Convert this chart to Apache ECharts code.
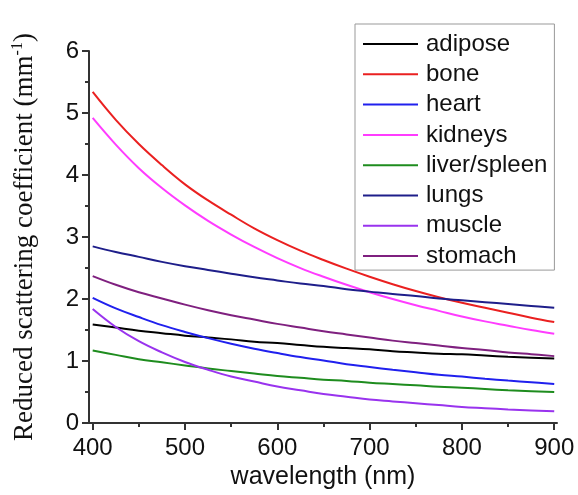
<!DOCTYPE html>
<html><head><meta charset="utf-8">
<script src="https://cdn.jsdelivr.net/npm/echarts@6/dist/echarts.min.js"></script>
<style>html,body{margin:0;padding:0;background:#fff}#c{width:578px;height:495px}</style>
</head><body><div id="c"></div>
<script>
const wavelengths = [400, 425, 450, 475, 500, 525, 550, 575, 600, 625, 650, 675, 700, 725, 750, 775, 800, 825, 850, 875, 900];
const seriesNames = ['adipose','bone','heart','kidneys','liver/spleen','lungs','muscle','stomach'];
const adipose     = [1.59, 1.54, 1.49, 1.45, 1.41, 1.38, 1.35, 1.31, 1.29, 1.26, 1.23, 1.21, 1.19, 1.16, 1.14, 1.12, 1.11, 1.09, 1.07, 1.055, 1.04];
const bone        = [5.34, 4.89, 4.50, 4.16, 3.85, 3.59, 3.36, 3.14, 2.95, 2.78, 2.63, 2.49, 2.36, 2.24, 2.13, 2.03, 1.94, 1.86, 1.78, 1.70, 1.63];
const heart       = [2.02, 1.85, 1.71, 1.58, 1.47, 1.37, 1.28, 1.20, 1.13, 1.065, 1.01, 0.95, 0.905, 0.86, 0.82, 0.78, 0.75, 0.715, 0.685, 0.66, 0.63];
const kidneys     = [4.92, 4.49, 4.11, 3.79, 3.51, 3.26, 3.04, 2.84, 2.66, 2.50, 2.36, 2.23, 2.11, 2.00, 1.90, 1.81, 1.72, 1.64, 1.57, 1.50, 1.44];
const liverSpleen = [1.17, 1.10, 1.03, 0.98, 0.93, 0.88, 0.84, 0.80, 0.76, 0.73, 0.70, 0.68, 0.65, 0.63, 0.61, 0.585, 0.57, 0.55, 0.53, 0.515, 0.50];
const lungs       = [2.85, 2.76, 2.68, 2.60, 2.53, 2.47, 2.41, 2.35, 2.30, 2.25, 2.21, 2.16, 2.12, 2.08, 2.05, 2.01, 1.98, 1.95, 1.92, 1.89, 1.86];
const muscle      = [1.84, 1.55, 1.32, 1.14, 0.985, 0.86, 0.75, 0.67, 0.59, 0.53, 0.47, 0.425, 0.38, 0.35, 0.32, 0.29, 0.26, 0.24, 0.22, 0.205, 0.19];
const stomach     = [2.37, 2.23, 2.11, 2.01, 1.91, 1.82, 1.74, 1.67, 1.60, 1.54, 1.48, 1.43, 1.38, 1.33, 1.29, 1.25, 1.21, 1.18, 1.14, 1.11, 1.08];
const xMajorTicks = [400, 500, 600, 700, 800, 900];
const xMinorTicks = [450, 550, 650, 750, 850];
const yTickLabels = [0, 1, 2, 3, 4, 5, 6];

const allValues = [adipose, bone, heart, kidneys, liverSpleen, lungs, muscle, stomach];
const colors = ['#000000', '#ea2020', '#2020ee', '#ff3cff', '#1e8c1e', '#1e1e8a', '#9933ee', '#7f207f'];

const chart = echarts.init(document.getElementById('c'), null, {renderer: 'canvas'});
const axisColor = '#333';
const font = 'Liberation Sans, Arial, sans-serif';
const serif = 'Liberation Serif, Times New Roman, serif';
const option = {
  backgroundColor: '#ffffff',
  animation: false,
  grid: {left: 89, right: 21, top: 51, bottom: 64, containLabel: false},
  legend: {
    orient: 'vertical',
    left: 355, top: 24,
    data: seriesNames,
    icon: 'rect',
    itemWidth: 55, itemHeight: 2,
    itemGap: 6.3,
    padding: [8, 7, 2, 8],
    borderColor: '#999', borderWidth: 1,
    textStyle: {fontFamily: font, fontSize: 24, color: '#111', padding: [0, 0, 0, 3]}
  },
  xAxis: [{
    type: 'value', min: 396, max: 903,
    name: 'wavelength (nm)', nameLocation: 'middle', nameGap: 35,
    nameTextStyle: {fontFamily: font, fontSize: 25, color: '#111'},
    axisLine: {show: true, lineStyle: {color: axisColor, width: 2}},
    axisTick: {show: true, inside: false, length: 7, lineStyle: {color: axisColor, width: 2}, customValues: xMajorTicks},
    axisLabel: {show: true, margin: 13, fontFamily: font, fontSize: 24, color: '#111', customValues: xMajorTicks},
    splitLine: {show: false}
  }, {
    type: 'value', min: 396, max: 903, position: 'bottom',
    axisLine: {show: false},
    axisTick: {show: true, inside: false, length: 4, lineStyle: {color: axisColor, width: 2}, customValues: xMinorTicks},
    axisLabel: {show: false},
    splitLine: {show: false}
  }],
  yAxis: {
    type: 'value', min: 0, max: 6, interval: 1,
    name: '{a|Reduced scattering coefficient (mm}{s|-1}{a|)}',
    nameLocation: 'middle', nameGap: 49, nameRotate: 90,
    nameTextStyle: {
      rich: {
        a: {fontFamily: serif, fontSize: 27, color: '#111'},
        s: {fontFamily: serif, fontSize: 16, color: '#111', padding: [0, 0, 14, 0]}
      }
    },
    axisLine: {show: true, lineStyle: {color: axisColor, width: 2}},
    axisTick: {show: true, inside: false, length: 7, lineStyle: {color: axisColor, width: 2}},
    minorTick: {show: true, splitNumber: 2, length: 4, lineStyle: {color: axisColor, width: 2}},
    axisLabel: {margin: 10, fontFamily: font, fontSize: 24, color: '#111',
      formatter: function (v) { return yTickLabels.indexOf(v) >= 0 ? String(v) : ''; }},
    splitLine: {show: false}
  },
  series: seriesNames.map((n, i) => ({
    name: n, type: 'line', xAxisIndex: 0,
    data: wavelengths.map((w, j) => [w, allValues[i][j]]),
    smooth: 0.4, showSymbol: false, symbol: 'none',
    lineStyle: {color: colors[i], width: 2},
    itemStyle: {color: colors[i]}
  }))
};
chart.setOption(option);
</script></body></html>
